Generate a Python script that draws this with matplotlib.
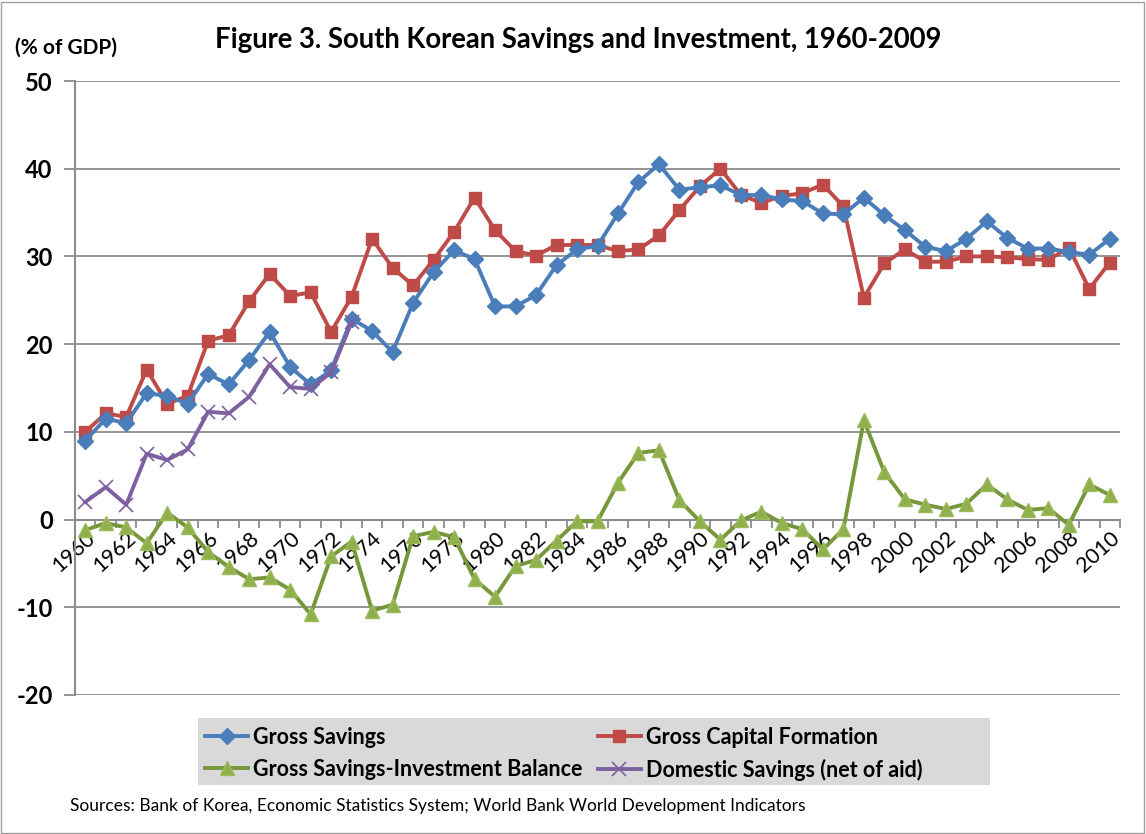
import numpy as np
import matplotlib
matplotlib.use("Agg")
import matplotlib.pyplot as plt
from matplotlib.patches import Rectangle

plt.rcParams['font.family'] = ['Lato', 'DejaVu Sans']

# ---- data (% of GDP) ----
years = list(range(1960, 2011))

gross_savings = [9.0, 11.5, 11.0, 14.4, 14.1, 13.2, 16.6, 15.4, 18.2, 21.4,
                 17.4, 15.4, 17.0, 22.9, 21.5, 19.1, 24.7, 28.2, 30.7, 29.7,
                 24.3, 24.3, 25.6, 29.0, 30.8, 31.2, 34.9, 38.5, 40.5, 37.6,
                 37.9, 38.1, 37.0, 37.0, 36.5, 36.3, 34.9, 34.8, 36.7, 34.7,
                 33.0, 31.1, 30.6, 32.0, 34.0, 32.1, 30.9, 30.9, 30.5, 30.2,
                 32.0]

gross_capital = [10.0, 12.1, 11.7, 17.1, 13.2, 14.1, 20.4, 21.0, 24.9, 28.0,
                 25.5, 25.9, 21.4, 25.4, 32.0, 28.7, 26.7, 29.6, 32.8, 36.7,
                 33.0, 30.6, 30.1, 31.3, 31.3, 31.3, 30.6, 30.8, 32.4, 35.3,
                 38.0, 40.0, 37.0, 36.1, 36.9, 37.2, 38.2, 35.7, 25.3, 29.2,
                 30.8, 29.4, 29.4, 30.0, 30.0, 29.9, 29.7, 29.6, 31.0, 26.3,
                 29.3]

balance = [-1.2, -0.4, -0.9, -2.7, 0.8, -0.9, -3.7, -5.4, -6.8, -6.6,
           -8.0, -10.8, -4.2, -2.5, -10.4, -9.7, -1.9, -1.4, -2.0, -6.8,
           -8.8, -5.3, -4.6, -2.4, -0.2, -0.2, 4.2, 7.6, 7.9, 2.2,
           -0.2, -2.3, -0.1, 0.9, -0.4, -1.1, -3.4, -1.1, 11.3, 5.4,
           2.3, 1.7, 1.2, 1.8, 4.0, 2.3, 1.1, 1.3, -0.6, 4.0,
           2.8]

dom_years = list(range(1960, 1974))
domestic_savings = [2.0, 3.7, 1.7, 7.5, 6.8, 8.0, 12.3, 12.1, 14.0, 17.7,
                    15.1, 14.9, 16.8, 22.5]

tick_years = list(range(1960, 2011, 2))
y_ticks = [-20, -10, 0, 10, 20, 30, 40, 50]

# ---- figure ----
W, H = 1146, 834
fig = plt.figure(figsize=(W / 100, H / 100), dpi=100)
ax = fig.add_axes([75 / W, 1 - 695 / H, (1120 - 75) / W, (695 - 81) / H])

# outer frame of the chart
fig.patches.append(Rectangle((0.001, 0.001), 0.997, 0.997, transform=fig.transFigure,
                             fill=False, edgecolor='#a0a0a0', linewidth=1))

c_blue, c_red, c_green, c_purple = '#4a7ebb', '#be4b48', '#77973b', '#7d60a0'

lw = 2.8
ax.plot(years, gross_savings, color=c_blue, lw=lw, marker='D', ms=8,
        mfc=c_blue, mec=c_blue, label='Gross Savings', zorder=4)
ax.plot(years, gross_capital, color=c_red, lw=lw, marker='s', ms=9,
        mfc=c_red, mec=c_red, label='Gross Capital Formation', zorder=3)
ax.plot(years, balance, color=c_green, lw=lw, marker='^', ms=10,
        mfc='#8fb04c', mec='#9bbb59', label='Gross Savings-Investment Balance', zorder=3)
ax.plot(dom_years, domestic_savings, color=c_purple, lw=lw, marker='x', ms=10,
        mew=1.2, label='Domestic Savings (net of aid)', zorder=5)

ax.set_xlim(1959.5, 2010.5)
ax.set_ylim(-20, 50)

# y axis
ax.set_yticks(y_ticks)
ax.set_yticklabels([str(v) for v in y_ticks], fontsize=17, fontweight='bold')
ax.yaxis.grid(True, color='#8c8c8c', lw=1.3)
ax.set_axisbelow(True)
ax.tick_params(axis='y', length=8, color='#8c8c8c', width=1.3, pad=8)

# x axis sits on zero, tick marks between categories
for s in ['top', 'right']:
    ax.spines[s].set_visible(False)
ax.spines['left'].set_color('#8c8c8c')
ax.spines['left'].set_linewidth(1.5)
ax.spines['bottom'].set_position(('data', 0))
ax.spines['bottom'].set_color('#8c8c8c')
ax.spines['bottom'].set_linewidth(1.5)
ax.set_xticks(tick_years)
ax.set_xticklabels([str(y) for y in tick_years], rotation=42, ha='right',
                   rotation_mode='anchor', fontsize=15.5)
ax.tick_params(axis='x', length=0, pad=6)
ax.set_xticks(np.arange(1959.5, 2011, 1), minor=True)
ax.tick_params(axis='x', which='minor', length=6, color='#8c8c8c', width=1.3, direction='out')

# titles
fig.text(578 / W, 1 - 40 / H, 'Figure 3. South Korean Savings and Investment, 1960-2009',
         ha='center', va='center', fontsize=19.8, fontweight='bold')
fig.text(15 / W, 1 - 48 / H, '(% of GDP)', ha='left', va='center',
         fontsize=15, fontweight='bold')

# legend on a grey band
fig.patches.append(Rectangle((198 / W, 1 - 785 / H), (990 - 198) / W, (785 - 718) / H,
                             transform=fig.transFigure, facecolor='#d9d9d9',
                             edgecolor='none', zorder=0))
handles, labels = ax.get_legend_handles_labels()
order = [0, 2, 1, 3]
leg = fig.legend([handles[i] for i in order], [labels[i] for i in order], ncol=2,
                 loc='upper left', bbox_to_anchor=(205 / W, 1 - 727 / H),
                 prop={'size': 15.5, 'weight': 'bold'}, frameon=False,
                 handlelength=2.0, handletextpad=0.25, borderaxespad=0,
                 labelspacing=0.5, borderpad=0.0, columnspacing=0.7)

fig.text(70 / W, 1 - 806 / H,
         'Sources: Bank of Korea, Economic Statistics System; World Bank World Development Indicators',
         ha='left', va='center', fontsize=12.5)

fig.savefig('out.png', dpi=100)
